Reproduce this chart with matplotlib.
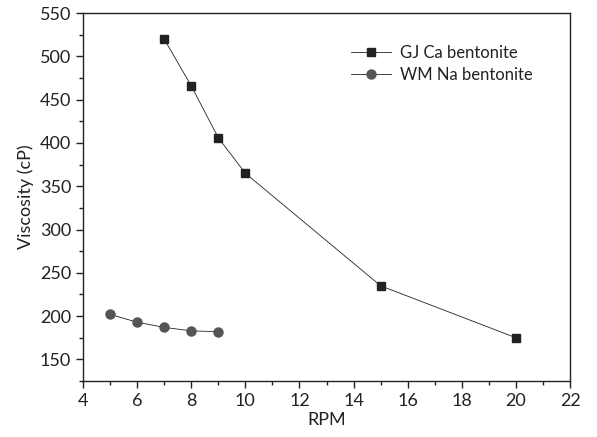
import matplotlib.pyplot as plt
from matplotlib.ticker import MultipleLocator

plt.rcParams['font.family'] = ['Lato', 'DejaVu Sans']

# Dados
rpm_gj = [7, 8, 9, 10, 15, 20]
visc_gj = [520, 466, 406, 365, 235, 175]
rpm_wm = [5, 6, 7, 8, 9]
visc_wm = [202, 193, 187, 183, 182]

fig = plt.figure(figsize=(5.97, 4.37), dpi=100)
ax = fig.add_axes([0.139, 0.128, 0.816, 0.842])

ax.plot(rpm_gj, visc_gj, color='#222222', linewidth=0.6, marker='s',
        markersize=5.5, markerfacecolor='#222222', markeredgecolor='#222222',
        label='GJ Ca bentonite')
ax.plot(rpm_wm, visc_wm, color='#222222', linewidth=0.6, marker='o',
        markersize=6.5, markerfacecolor='#555555', markeredgecolor='#555555',
        label='WM Na bentonite')

ax.set_xlim(4, 22)
ax.set_ylim(125, 550)
ax.xaxis.set_major_locator(MultipleLocator(2))
ax.xaxis.set_minor_locator(MultipleLocator(1))
ax.yaxis.set_major_locator(MultipleLocator(50))
ax.yaxis.set_minor_locator(MultipleLocator(25))
ax.tick_params(which='both', direction='out', width=1, labelsize=13, colors='#222222')
ax.tick_params(which='major', length=5)
ax.tick_params(which='minor', length=3)
for s in ax.spines.values():
    s.set_linewidth(1)
    s.set_color('#222222')

ax.set_xlabel('RPM', fontsize=13, labelpad=2, color='#222222')
ax.set_ylabel('Viscosity (cP)', fontsize=13, labelpad=4, color='#222222')

ax.legend(loc='upper left', bbox_to_anchor=(0.52, 0.955), frameon=False,
          fontsize=12, handlelength=2.4, handletextpad=0.5, labelspacing=0.35,
          labelcolor='#222222')

plt.savefig('out.png', dpi=100)
